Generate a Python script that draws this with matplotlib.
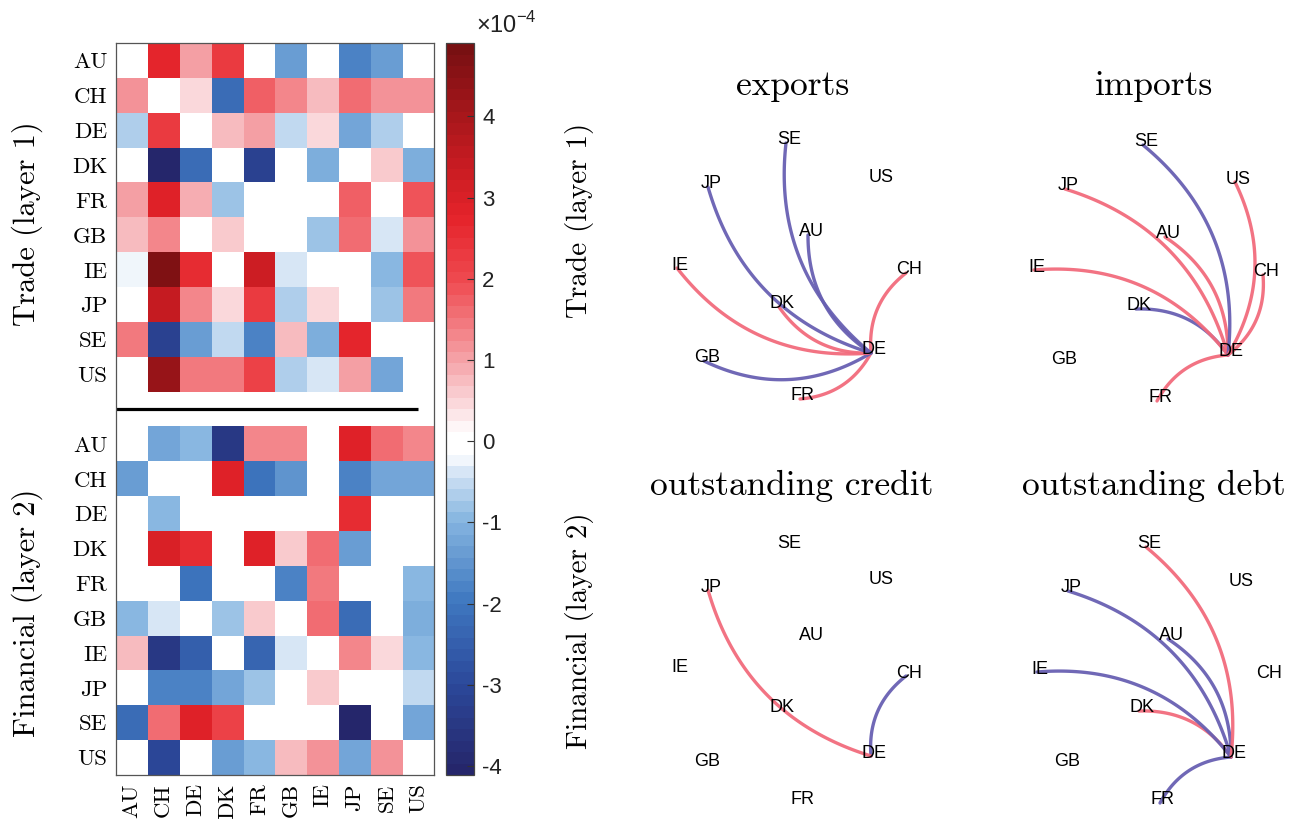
"""Multiplex heatmap (trade / financial layers) plus DE ego-networks."""

import numpy as np
import matplotlib

matplotlib.use("Agg")

import matplotlib.pyplot as plt  # noqa: E402
from matplotlib.colors import LinearSegmentedColormap, Normalize  # noqa: E402

plt.rcParams["mathtext.fontset"] = "custom"
plt.rcParams["mathtext.rm"] = "Liberation Sans"

countries = ["AU", "CH", "DE", "DK", "FR", "GB", "IE", "JP", "SE", "US"]

# values in units of 1e-4, rows = from, cols = to
trade = np.array([
    [0.0, 2.7, 1.0, 2.3, 0.0, -1.4, 0.0, -1.8, -1.4, 0.0],   # AU
    [1.2, 0.0, 0.4, -2.2, 1.8, 1.3, 0.8, 1.6, 1.2, 1.2],     # CH
    [-0.7, 2.3, 0.0, 0.8, 1.0, -0.5, 0.4, -1.2, -0.6, 0.0],  # DE
    [0.0, -4.0, -2.2, 0.0, -3.2, 0.0, -1.1, 0.0, 0.6, -1.1],  # DK
    [1.0, 2.8, 0.9, -0.8, 0.0, 0.0, 0.0, 1.7, 0.0, 1.9],     # FR
    [0.8, 1.3, 0.0, 0.6, 0.0, 0.0, -0.8, 1.6, -0.4, 1.1],    # GB
    [-0.2, 4.7, 2.6, 0.0, 3.3, -0.4, 0.0, 0.0, -0.9, 1.9],   # IE
    [0.0, 3.4, 1.3, 0.4, 2.3, -0.6, 0.4, 0.0, -0.8, 1.4],    # JP
    [1.4, -3.2, -1.4, -0.5, -1.8, 0.8, -1.1, 2.7, 0.0, 0.0],  # SE
    [0.0, 4.2, 1.5, 1.5, 2.2, -0.7, -0.4, 1.0, -1.2, 0.0],   # US
])

financial = np.array([
    [0.0, -1.2, -1.0, -3.5, 1.3, 1.3, 0.0, 2.8, 1.6, 1.3],    # AU
    [-1.4, 0.0, 0.0, 2.8, -2.1, -1.5, 0.0, -1.8, -1.2, -1.2],  # CH
    [0.0, -1.0, 0.0, 0.0, 0.0, 0.0, 0.0, 2.6, 0.0, 0.0],      # DE
    [0.0, 3.0, 2.6, 0.0, 2.8, 0.6, 1.6, -1.3, 0.0, 0.0],      # DK
    [0.0, 0.0, -2.1, 0.0, 0.0, -1.8, 1.5, 0.0, 0.0, -1.0],    # FR
    [-0.9, -0.4, 0.0, -0.8, 0.6, 0.0, 1.6, -2.2, 0.0, -1.1],  # GB
    [0.7, -3.5, -2.5, 0.0, -2.3, -0.4, 0.0, 1.3, 0.4, -1.0],  # IE
    [0.0, -1.8, -1.8, -1.2, -0.8, 0.0, 0.6, 0.0, 0.0, -0.5],  # JP
    [-2.2, 1.6, 2.9, 2.1, 0.0, 0.0, 0.0, -4.1, 0.0, -1.2],    # SE
    [0.0, -3.0, 0.0, -1.4, -0.9, 0.8, 1.1, -1.2, 1.2, 0.0],   # US
])

# network layout (same for every panel), x right / y up
node_x = [16, 114, 79, -13, 8, -88, -115, -84, -6, 86]
node_y = [35, -3, -83, -37, -129, -91, 2, 83, 127, 90]

cbar_ticks = [-4, -3, -2, -1, 0, 1, 2, 3, 4]
vmin, vmax = -4.11, 4.9

W, H = 1296, 819


def px(x, y):
    return x / W, 1 - y / H


def make_cmap():
    anchors = [
        (-4.11, "#25266b"), (-3.0, "#2c4a9c"), (-2.0, "#3f78c0"),
        (-1.0, "#85b5e0"), (-0.45, "#cde0f3"), (-0.17, "#ffffff"),
        (0.1, "#ffffff"), (0.45, "#fbdadd"), (1.0, "#f5a3a8"),
        (2.0, "#ef4a50"), (2.8, "#e4232a"), (3.6, "#c01a20"),
        (4.9, "#781012"),
    ]
    pos = [(v - vmin) / (vmax - vmin) for v, _ in anchors]
    cols = [c for _, c in anchors]
    cmap = LinearSegmentedColormap.from_list("rwb", list(zip(pos, cols)), N=64)
    cmap.set_bad("white")
    return cmap


def arc(p0, p1, bend=0.27, n=80):
    d = p1 - p0
    normal = np.array([-d[1], d[0]])  # left of travel direction
    ctrl = (p0 + p1) / 2 + bend * normal
    t = np.linspace(0, 1, n)[:, None]
    return (1 - t) ** 2 * p0 + 2 * (1 - t) * t * ctrl + t ** 2 * p1


def main():
    fig = plt.figure(figsize=(W / 100, H / 100), dpi=100)
    cmap = make_cmap()
    norm = Normalize(vmin, vmax)

    # ---- heatmap -----------------------------------------------------
    gap = np.full((1, len(countries)), np.nan)
    grid = np.vstack([trade, gap, financial])
    ax = fig.add_axes([115.7 / W, 1 - 775 / H, 318.6 / W, 731.7 / H])
    im = ax.imshow(grid, cmap=cmap, norm=norm, aspect="auto",
                   interpolation="nearest")
    ax.plot([-0.5, 9.0], [10, 10], color="black", lw=2.3,
            solid_capstyle="butt")
    rows = list(range(10)) + list(range(11, 21))
    ax.set_yticks(rows)
    ax.set_yticklabels(countries + countries, family="cmr10", fontsize=16.5)
    ax.set_xticks(range(10))
    ax.set_xticklabels(countries, family="cmr10", fontsize=16.5, rotation=90)
    ax.tick_params(length=0, pad=6)
    for s in ax.spines.values():
        s.set_color("#555555")
        s.set_linewidth(0.9)

    for label, y in [("Trade (layer 1)", 224), ("Financial (layer 2)", 613)]:
        fig.text(*px(27, y), label, rotation=90, ha="center", va="center",
                 family="cmr10", fontsize=22)

    cax = fig.add_axes([445.7 / W, 1 - 775 / H, 28.3 / W, 731.7 / H])
    cb = fig.colorbar(im, cax=cax)
    cb.set_ticks(cbar_ticks)
    cb.set_ticklabels([str(t) for t in cbar_ticks])
    cax.tick_params(direction="in", length=5, width=0.8, color="#333333",
                    labelsize=16, labelcolor="#222222", pad=6)
    for t in cax.get_yticklabels():
        t.set_family("Liberation Sans")
    cb.outline.set_edgecolor("#444444")
    cb.outline.set_linewidth(0.9)
    fig.text(*px(476, 33), r"$\times10^{-4}$", fontsize=17, color="#222222",
             ha="left", va="baseline")

    # ---- ego networks of DE -----------------------------------------
    de = countries.index("DE")
    pos = np.column_stack([node_x, node_y]).astype(float)
    panels = [
        ("exports", trade[de, :], True, (792, 270), (793, 95)),
        ("imports", trade[:, de], False, (1149, 272), (1154, 95)),
        ("outstanding credit", financial[de, :], True, (792, 673), (792, 495)),
        ("outstanding debt", financial[:, de], False, (1152, 674), (1154, 495)),
    ]
    for title, vals, outward, (cx, cy), (tx, ty) in panels:
        nax = fig.add_axes([(cx - 160) / W, 1 - (cy + 160) / H, 320 / W, 320 / H])
        nax.set_xlim(-160, 160)
        nax.set_ylim(-160, 160)
        nax.axis("off")
        for i, name in enumerate(countries):
            nax.text(pos[i, 0] + 3, pos[i, 1] + 3, name, ha="center",
                     va="center", fontsize=13, family="Liberation Sans",
                     zorder=5)
        for i, v in enumerate(vals):
            if i == de or v == 0:
                continue
            p0, p1 = (pos[de], pos[i]) if outward else (pos[i], pos[de])
            curve = arc(p0, p1)
            color = "#f26b7c" if v > 0 else "#6860b2"
            nax.plot(curve[:, 0], curve[:, 1], color=color, lw=2.4,
                     alpha=0.95, zorder=4, solid_capstyle="round")
        fig.text(*px(tx, ty), title, ha="center", va="baseline",
                 family="cmr10", fontsize=25.5)

    for label, y in [("Trade (layer 1)", 220), ("Financial (layer 2)", 631)]:
        fig.text(*px(580, y), label, rotation=90, ha="center", va="center",
                 family="cmr10", fontsize=21)

    fig.savefig("out.png", dpi=100)
    plt.close(fig)


if __name__ == "__main__":
    main()
